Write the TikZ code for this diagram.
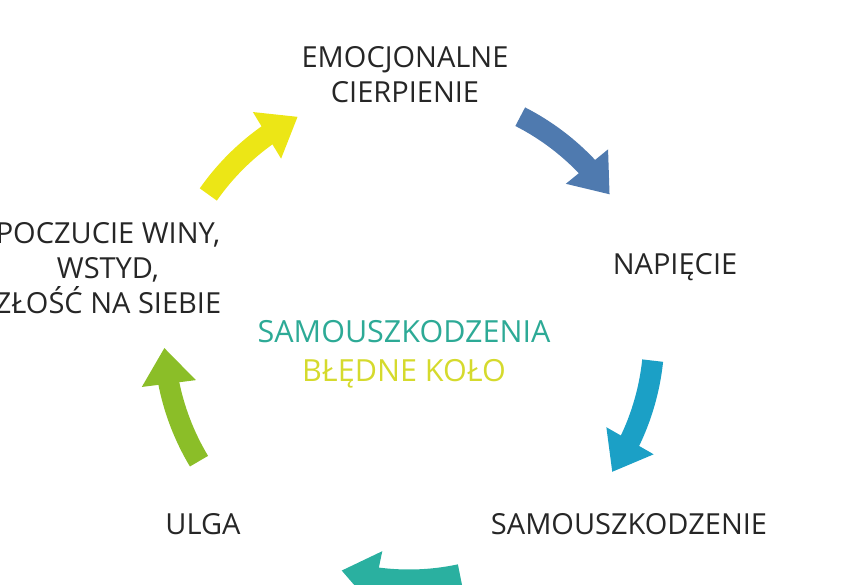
\documentclass[tikz,border=0pt]{standalone}
\usepackage{fontspec}
\setmainfont{Open Sans}
\usetikzlibrary{arrows.meta,bending}
\definecolor{cyellow}{RGB}{236,230,22}
\definecolor{cblue}{RGB}{79,122,175}
\definecolor{ccyan}{RGB}{27,160,198}
\definecolor{cteal}{RGB}{42,176,160}
\definecolor{cgreen}{RGB}{139,190,40}
\definecolor{titleteal}{RGB}{45,170,150}
\definecolor{titleyellow}{RGB}{213,218,45}
\begin{document}
\begin{tikzpicture}[x=1pt,y=1pt,
    label/.style={align=center,font=\fontsize{29}{35}\selectfont,text=black!85},
    loop arrow/.style={line width=21pt,-{Triangle[length=36pt,width=52pt,flex]}}]
  \useasboundingbox (0,0) rectangle (856,-585);
  \coordinate (c) at (409,-335);
  \node[label] (emo) at (405,-75) {EMOCJONALNE\\CIERPIENIE};
  \node[label] (nap) at (675,-267) {NAPIĘCIE};
  \node[label] (samo) at (629,-524) {SAMOUSZKODZENIE};
  \node[label] (ulga) at (203,-524) {ULGA};
  \node[label] (wina) at (108,-268) {POCZUCIE WINY,\\WSTYD,\\ZŁOŚĆ NA SIEBIE};
  \node[label,font=\fontsize{30.5}{39}\selectfont] (title) at (404,-354)
    {\textcolor{titleteal}{SAMOUSZKODZENIA}\\\textcolor{titleyellow}{BŁĘDNE KOŁO}};
  % points on the circle where the arrows start
  \path (c) ++(145:245) coordinate (a1)
        (c) ++(63:245) coordinate (a2)
        (c) ++(-6:245) coordinate (a3)
        (c) ++(-78:245) coordinate (a4)
        (c) ++(-149:245) coordinate (a5);
  \begin{scope}[loop arrow]
    \draw[cyellow] (a1) arc[start angle=145,end angle=117,radius=245];
    \draw[cblue] (a2) arc[start angle=63,end angle=35,radius=245];
    \draw[ccyan] (a3) arc[start angle=-6,end angle=-34,radius=245];
    \draw[cteal] (a4) arc[start angle=-78,end angle=-106,radius=245];
    \draw[cgreen] (a5) arc[start angle=-149,end angle=-177,radius=245];
  \end{scope}
\end{tikzpicture}
\end{document}
